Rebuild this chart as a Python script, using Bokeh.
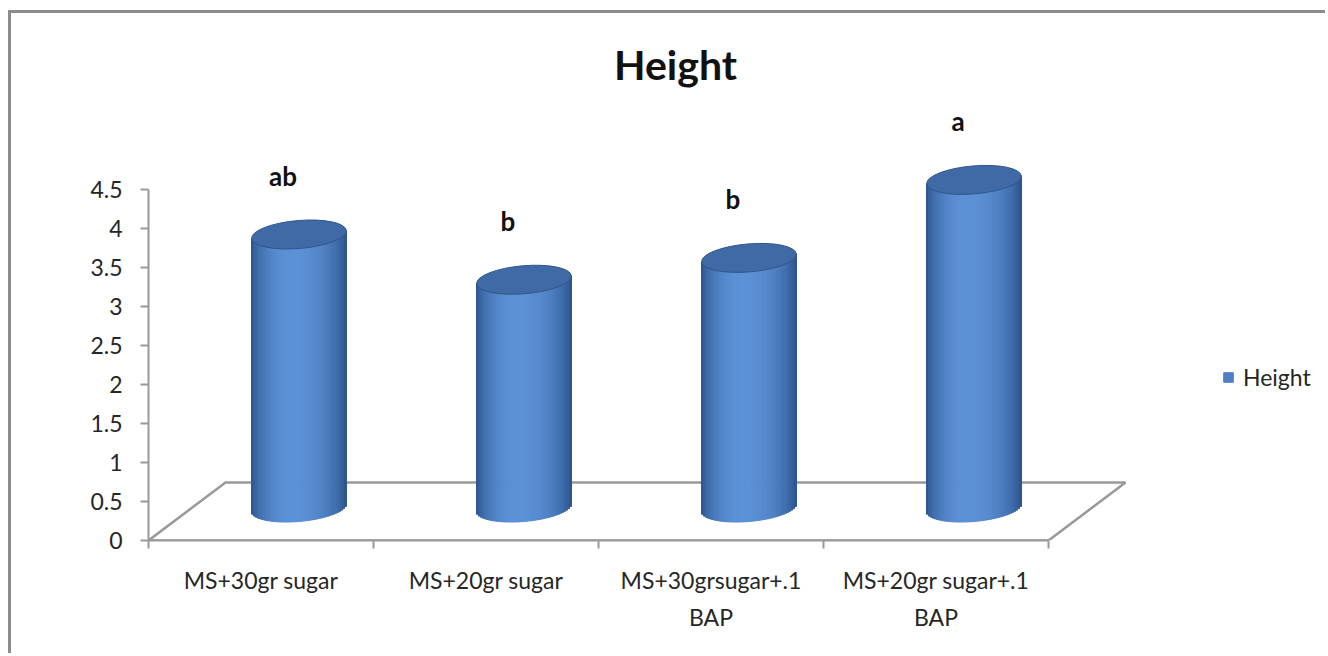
import numpy as np
from bokeh.plotting import figure
from bokeh.models import Range1d, FixedTicker, Legend, LegendItem, ColumnDataSource, Label
from bokeh.core.properties import value
from bokeh.embed import file_html
from bokeh.resources import INLINE

# ---------------- data ----------------
categories = ["MS+30gr sugar", "MS+20gr sugar", "MS+30grsugar+.1\nBAP", "MS+20gr sugar+.1\nBAP"]
heights = [3.5, 2.92, 3.2, 4.2]
letters = ["ab", "b", "b", "a"]
y_ticks = [0, 0.5, 1, 1.5, 2, 2.5, 3, 3.5, 4, 4.5]
y_tick_labels = ["0", "0.5", "1", "1.5", "2", "2.5", "3", "3.5", "4", "4.5"]
series_name = "Height"
title_text = "Height"

# ---------------- layout constants (pixels) ----------------
W, H = 1317, 643
OX, OY = 11, 13                  # page offset of canvas (margin + 3px border)
F_LEFT, F_TOP, F_BOTTOM, F_RIGHT = 148, OY, 540, OX + W
PXX, PXY = 225.0, 78.0           # px per category / px per unit
FLOOR_DX, FLOOR_DY = 77 / PXX, 58 / PXY
CX_OFF = 38 / PXX
BASE_OFF = 33 / PXY
HALF_W = 47.5
ELL_H = 28
TILT = 0.084
N = 48
GRAY = "#999999"
TXT = "#262626"

n = len(categories)
x_end = (F_RIGHT - F_LEFT) / PXX
y_end = (F_BOTTOM - F_TOP) / PXY

p = figure(width=W, height=H, output_backend="svg", toolbar_location=None,
           x_range=Range1d(0, x_end), y_range=Range1d(0, y_end),
           min_border_left=F_LEFT - OX, min_border_right=0,
           min_border_top=0, min_border_bottom=H - (F_BOTTOM - OY))
p.styles = {"border-left": "3px solid #8c8c8c", "border-top": "3px solid #8c8c8c",
            "margin-left": "8px", "margin-top": "10px"}
p.outline_line_color = None
p.xgrid.visible = False
p.ygrid.visible = False

# floor
p.patch(x=[0, FLOOR_DX, n + FLOOR_DX, n], y=[0, FLOOR_DY, FLOOR_DY, 0],
        fill_color="white", line_color=GRAY, line_width=2.5)

# cylinder bodies as shaded strips
light = np.array([92, 145, 214])
dark = np.array([42, 82, 140])
c = -0.12
L, R, T, B, C = [], [], [], [], []
for i, v in enumerate(heights):
    cx = i + 0.5 + CX_OFF
    for k in range(N):
        t0 = -1 + 2 * k / N
        t1 = t0 + 2 / N
        tm = 0.5 * (t0 + t1)
        ytilt = TILT * tm * HALF_W / PXY
        L.append(cx + t0 * HALF_W / PXX)
        R.append(cx + t1 * HALF_W / PXX)
        T.append(v + BASE_OFF + ytilt)
        B.append(BASE_OFF + ytilt - (ELL_H / 2) / PXY * np.sqrt(max(0.0, 1 - tm * tm)))
        u = (tm - c) / (1 - c) if tm >= c else (c - tm) / (1 + c)
        s = max(0.0, 1 - u * u) ** 0.75
        col = dark + (light - dark) * s
        C.append("#%02x%02x%02x" % tuple(int(round(x)) for x in col))
src = ColumnDataSource(dict(left=L, right=R, top=T, bottom=B, color=C))
body = p.quad(left="left", right="right", top="top", bottom="bottom", source=src,
              fill_color="color", line_color="color", line_width=1)

# top ellipses
cxs = [i + 0.5 + CX_OFF for i in range(n)]
tops = [v + BASE_OFF for v in heights]
p.ellipse(x=cxs, y=tops, width=2 * HALF_W, height=ELL_H, width_units="screen",
          height_units="screen", angle=TILT, fill_color="#3f6aa5",
          line_color="#30578b", line_width=1)

# significance letters
p.text(x=[i + 0.5 + 22 / PXX for i in range(n)], y=[v + BASE_OFF + 59 / PXY for v in heights],
       text=letters, text_font=value("Lato"), text_font_style="bold", text_font_size="26px",
       text_align="center", text_baseline="middle", text_color="#111111")

# title
p.add_layout(Label(x=(675 - F_LEFT) / PXX, y=(F_BOTTOM - 64) / PXY, text=title_text,
                   text_font="Lato", text_font_style="bold", text_font_size="41px",
                   text_align="center", text_baseline="middle", text_color="#111111"))

# axes
ya = p.yaxis[0]
ya.ticker = FixedTicker(ticks=y_ticks)
ya.major_label_overrides = {t: l for t, l in zip(y_ticks, y_tick_labels)}
ya.bounds = (y_ticks[0], y_ticks[-1])
ya.axis_line_color = GRAY
ya.axis_line_width = 2
ya.major_tick_line_color = GRAY
ya.major_tick_line_width = 2
ya.major_tick_out = 8
ya.major_tick_in = 0
ya.minor_tick_out = 0
ya.minor_tick_in = 0
ya.major_label_standoff = 18
ya.major_label_text_font = "Lato"
ya.major_label_text_font_size = "23px"
ya.major_label_text_color = TXT

xa = p.xaxis[0]
centers = [i + 0.5 for i in range(n)]
xa.ticker = FixedTicker(ticks=centers, minor_ticks=list(range(n + 1)))
xa.major_label_overrides = {t: l for t, l in zip(centers, categories)}
xa.bounds = (0, n)
xa.axis_line_color = GRAY
xa.axis_line_width = 2
xa.major_tick_out = 0
xa.major_tick_in = 0
xa.minor_tick_line_color = GRAY
xa.minor_tick_line_width = 2
xa.minor_tick_out = 8
xa.minor_tick_in = 0
xa.major_label_standoff = 17
xa.major_label_text_font = "Lato"
xa.major_label_text_font_size = "23px"
xa.major_label_text_color = TXT
xa.major_label_text_line_height = 1.33

# legend
cols = np.array([[int(cc[1:3], 16), int(cc[3:5], 16), int(cc[5:7], 16)] for cc in C[:N]])
target = np.array([79, 129, 189])
idx = int(np.argmin(((cols - target) ** 2).sum(axis=1)))
legend = Legend(items=[LegendItem(label=series_name, renderers=[body], index=idx)],
                location=(1222 - F_LEFT, F_BOTTOM - 378 - 13),
                glyph_width=12, glyph_height=12, label_standoff=9, padding=0, margin=0,
                spacing=0, border_line_color=None, background_fill_alpha=0,
                label_text_font="Lato", label_text_font_size="23px", label_text_color=TXT,
                label_height=26)
p.add_layout(legend)

open("out.html", "w").write(file_html(p, INLINE))
